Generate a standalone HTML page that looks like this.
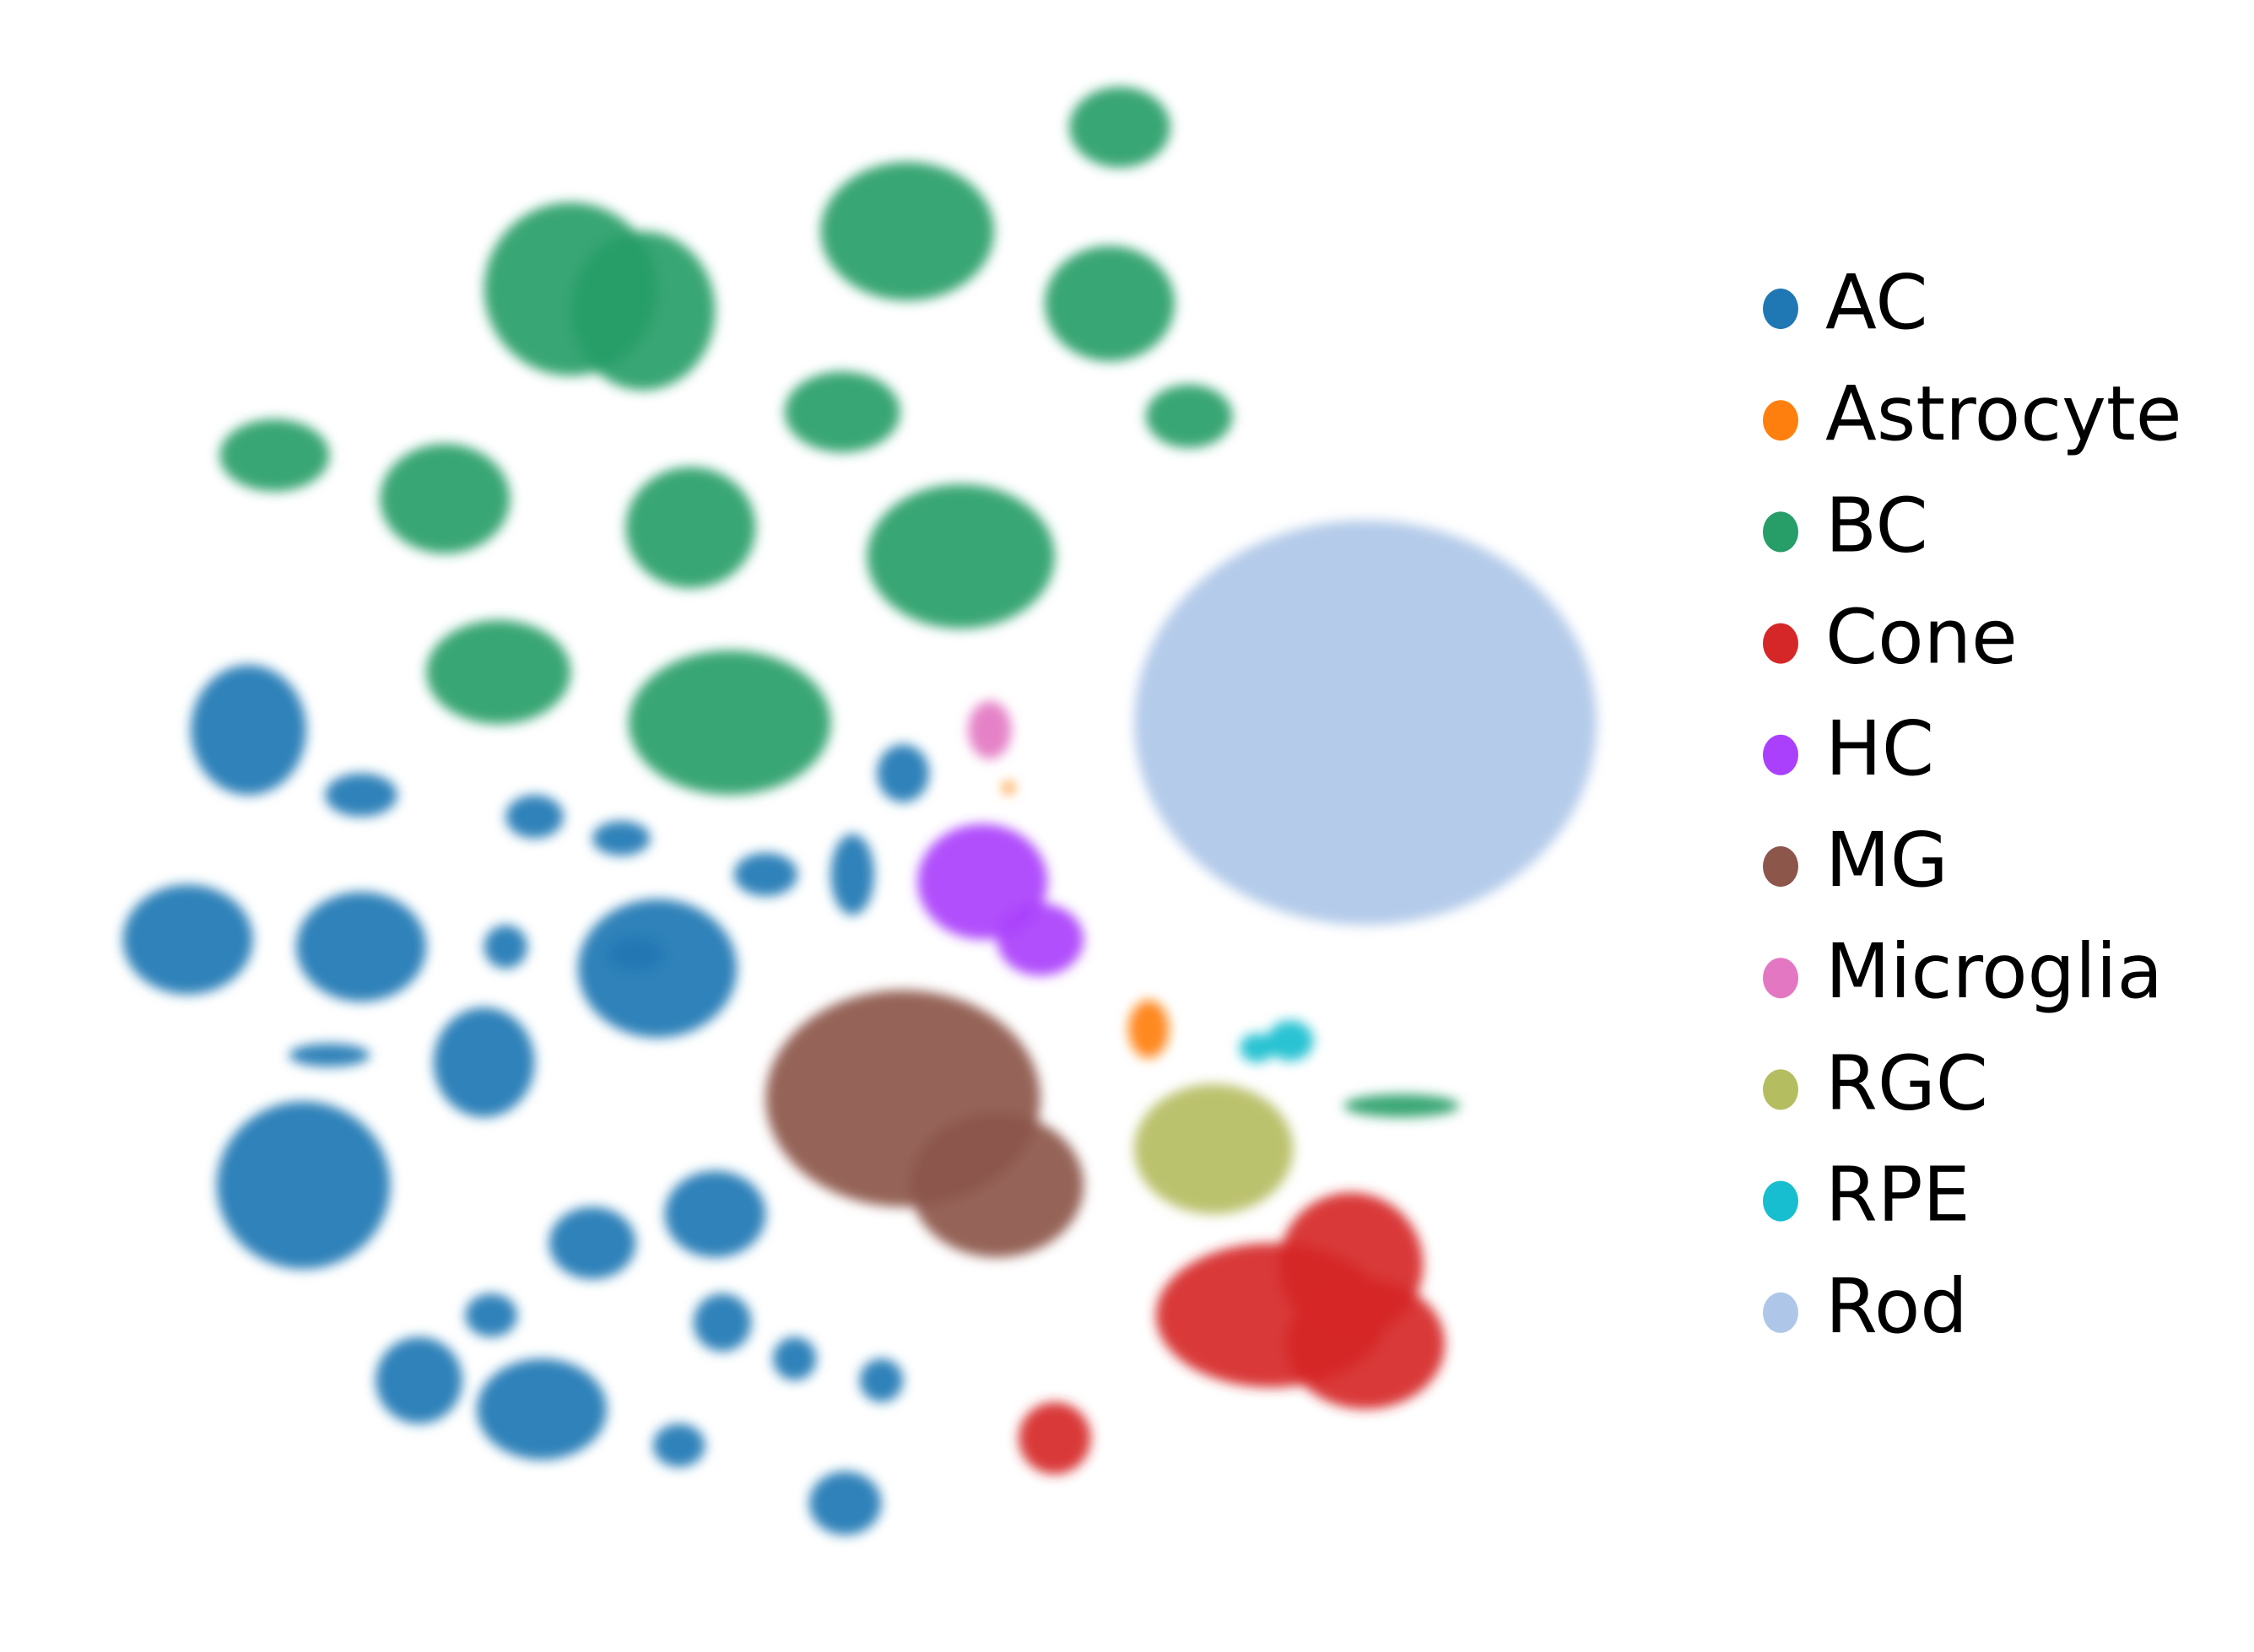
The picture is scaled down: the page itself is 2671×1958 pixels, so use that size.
<!DOCTYPE html>
<html><head><meta charset="utf-8"><style>
html,body{margin:0;padding:0;background:#fff;}
svg{display:block;}
</style></head><body>
<svg id="chart" width="2671" height="1958" viewBox="0 0 2671 1958" xmlns="http://www.w3.org/2000/svg">
<defs>
<filter id="soft" x="-30%" y="-30%" width="160%" height="160%"><feGaussianBlur stdDeviation="7"/></filter>
</defs>
<g id="points" filter="url(#soft)"></g>
<g id="legend"></g>
</svg>
<script>
const categories = ["AC","Astrocyte","BC","Cone","HC","MG","Microglia","RGC","RPE","Rod"];
const colors = ["#1f77b4","#ff7f0e","#279e68","#d62728","#aa40fc","#8c564b","#e377c2","#b5bd61","#17becf","#aec7e8"];
// cluster data in embedding units
const clusterCat = [9,
 2,2,2,2,2,2,2,2,2,2,2,2,2,2,
 0,0,0,0,0,0,0,0,0,0,0,0,0,0,0,0,0,0,0,0,0,0,0,0,0,
 5,5,4,4,6,1,1,7,8,8,3,3,3,3];
const clusterX = [945,
 395,445,628,775,768,823,190,308,583,478,665,345,505,970,
 172,130,250,455,335,210,495,410,290,375,585,250,370,430,350,530,590,625,470,500,550,228,340,440,610,
 625,690,680,720,685,795,698,840,870,893,880,945,935,730];
const clusterY = [500,
 200,215,160,88,210,288,315,345,285,365,385,465,500,765,
 505,650,655,670,735,820,840,860,955,975,1040,550,565,580,655,605,605,535,1000,915,940,730,910,660,955,
 760,820,610,650,505,712,545,795,725,720,910,930,875,995];
const clusterRX = [160,
 60,50,60,35,45,30,38,45,40,45,65,50,70,40,
 40,45,45,55,35,60,35,30,30,45,25,25,20,20,15,22,15,18,18,20,15,28,18,20,15,
 95,60,45,30,15,14,4,55,12,16,80,55,50,25];
const clusterRY = [140,
 60,55,48,28,40,22,25,38,28,42,50,36,50,8,
 45,38,38,48,38,58,30,25,30,35,22,15,15,12,15,15,28,20,15,20,15,8,15,12,15,
 75,50,40,25,20,20,4,45,10,14,50,45,50,25];
const legendLabels = categories;

const sx = v => v * 1.7122;
const sy = v => v * 1.7131;
const NS = "http://www.w3.org/2000/svg";
const gp = document.getElementById("points");
for (let i = 0; i < clusterCat.length; i++) {
  const e = document.createElementNS(NS, "ellipse");
  e.setAttribute("cx", sx(clusterX[i]));
  e.setAttribute("cy", sy(clusterY[i]));
  e.setAttribute("rx", sx(clusterRX[i]));
  e.setAttribute("ry", sy(clusterRY[i]));
  e.setAttribute("fill", colors[clusterCat[i]]);
  e.setAttribute("fill-opacity", "0.92");
  
  
  gp.appendChild(e);
}
const gl = document.getElementById("legend");
for (let i = 0; i < legendLabels.length; i++) {
  const cy = 366 + i * 132.2;
  const m = document.createElementNS(NS, "ellipse");
  m.setAttribute("cx", 2110); m.setAttribute("cy", cy);
  m.setAttribute("rx", 21); m.setAttribute("ry", 24);
  m.setAttribute("fill", colors[i]);
  
  
  gl.appendChild(m);
  const t = document.createElementNS(NS, "text");
  t.setAttribute("x", 2163); t.setAttribute("y", cy + 23);
  t.setAttribute("font-family", "DejaVu Sans, Liberation Sans, sans-serif");
  t.setAttribute("font-size", "89");
  t.setAttribute("fill", "#000");
  t.textContent = legendLabels[i];
  
  
  gl.appendChild(t);
}
</script>
</body></html>
